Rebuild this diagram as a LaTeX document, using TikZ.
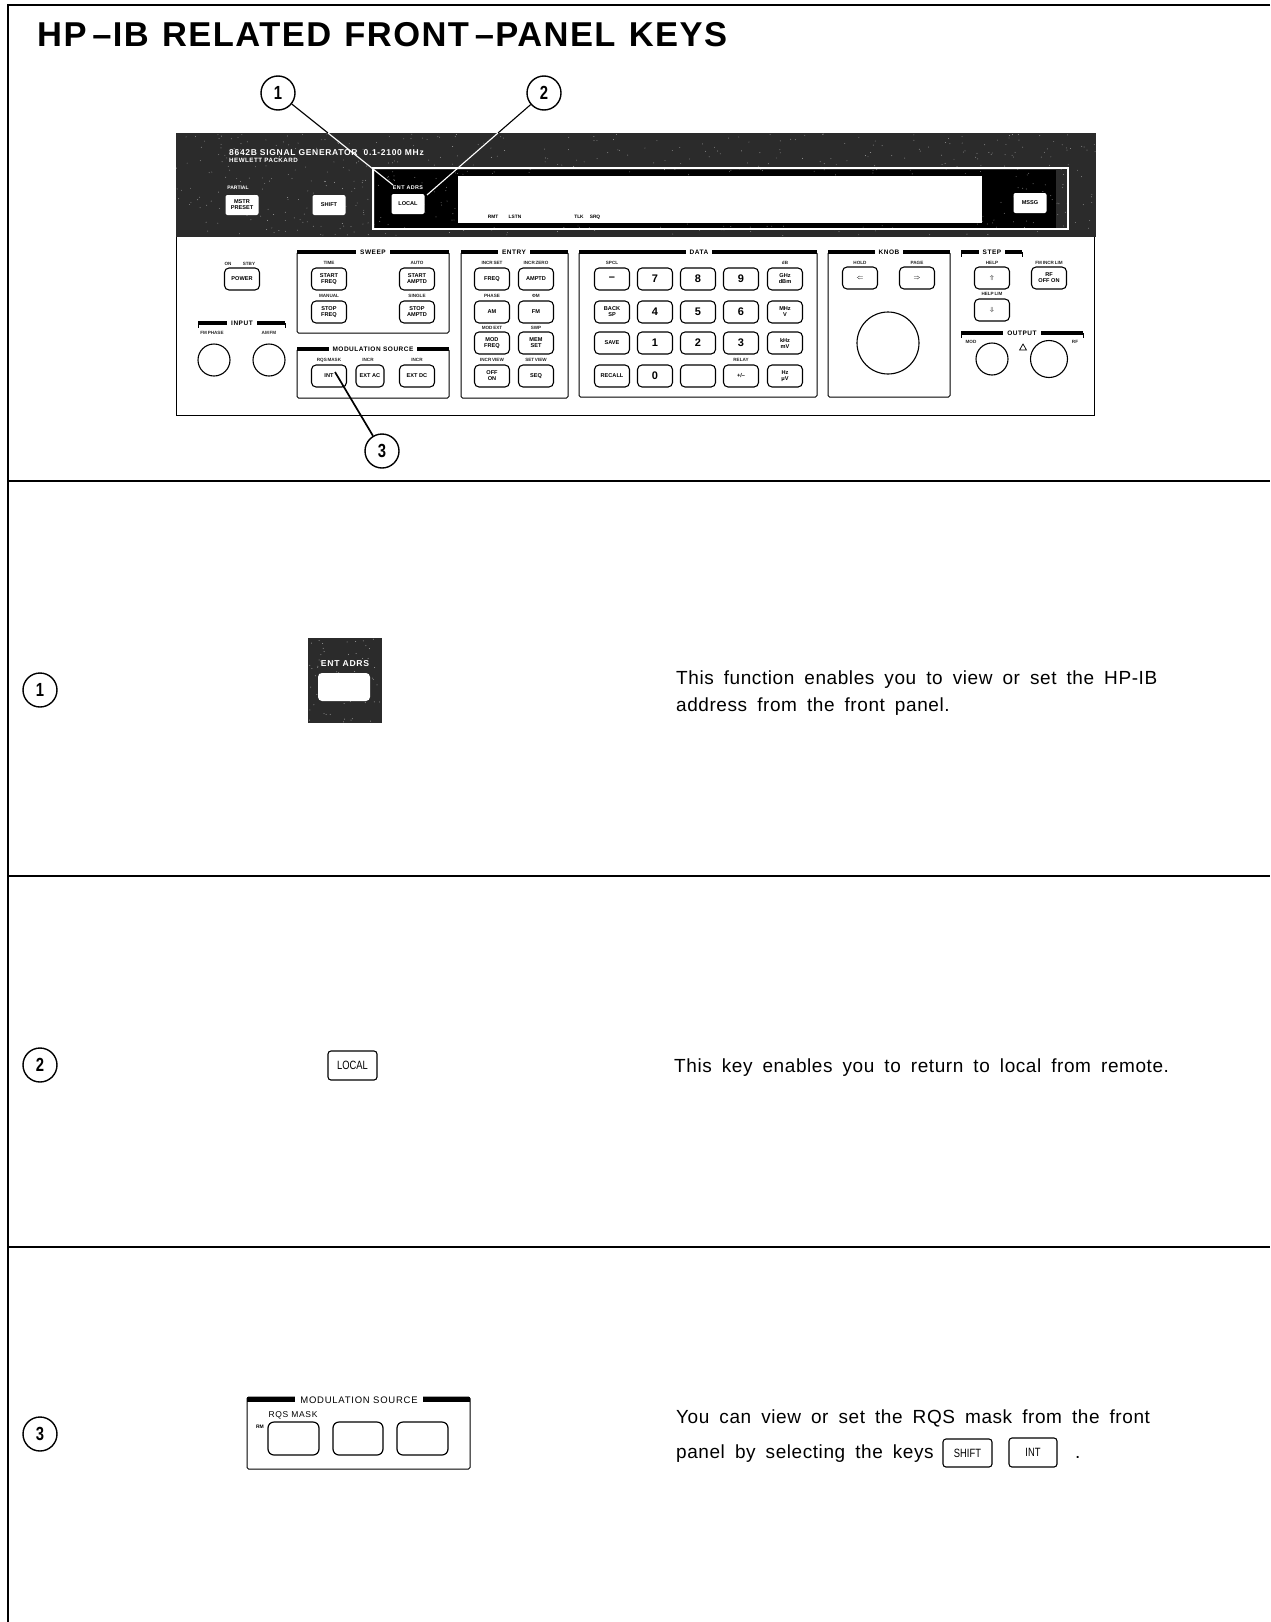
\documentclass[tikz,border=0pt]{standalone}
\usepackage{graphicx}
\usepackage{fontspec}
\setmainfont{Liberation Sans}
\newfontfamily\bodyf[WordSpace=1.72,LetterSpace=3]{Liberation Sans}
\newfontfamily\titlef[LetterSpace=4.2,WordSpace=1.2]{Liberation Sans}
\newfontfamily\panelf[LetterSpace=8]{Liberation Sans}
\usetikzlibrary{calc,shapes.geometric}
\definecolor{panelgray}{HTML}{2B2B2B}
\newcommand{\narrowtext}[1]{\scalebox{.78}[1]{#1}}
\tikzset{
  rule/.style={line width=1.3pt,black},
  callout/.style={draw,circle,minimum size=34pt,inner sep=0pt,line width=1.4pt,font=\fontsize{19}{19}\selectfont\bfseries,fill=white},
  fkey/.style={draw,rounded corners=4.5pt,line width=1.1pt,minimum width=35pt,minimum height=22pt,inner sep=0pt,align=center,font=\fontsize{5.6}{6}\selectfont\bfseries,fill=white},
  numkey/.style={fkey,font=\fontsize{11}{11}\selectfont\bfseries},
  whitekey/.style={fill=white,rounded corners=2pt,minimum width=33pt,minimum height=20pt,inner sep=0pt,align=center,font=\fontsize{5.6}{6}\selectfont\bfseries},
  groupbox/.style={draw,rounded corners=1.5pt,line width=1pt},
  headbar/.style={line width=3.5pt,black},
  headtext/.style={fill=white,inner ysep=0.5pt,inner xsep=4pt,font=\fontsize{6.5}{6}\selectfont\panelf\bfseries},
  tinylab/.style={inner sep=0pt,font=\fontsize{4.6}{5}\selectfont\bfseries,text=black!85},
  bodytext/.style={anchor=base west,inner sep=0pt,font=\fontsize{19}{20}\selectfont\bodyf},
  knob/.style={draw,circle,line width=1.1pt,inner sep=0pt},
  inlinekey/.style={draw,rounded corners=3pt,line width=1.1pt,inner sep=0pt,font=\fontsize{12}{12}\selectfont},
  bigkey/.style={draw,rounded corners=6pt,line width=1.2pt,inner sep=0pt},
}
\begin{document}
\begin{tikzpicture}[x=1pt,y=-1pt]
\useasboundingbox (0,0) rectangle (1270,1622);
\fill[white] (0,0) rectangle (1270,1622);
% frame
\draw[rule] (1270,5) -- (8,5) -- (8,1622);
\draw[rule] (8,481) -- (1270,481);
\draw[rule] (8,876) -- (1270,876);
\draw[rule] (8,1247) -- (1270,1247);
% title
\node[anchor=base west,inner sep=0pt,font=\fontsize{34.5}{34}\selectfont\titlef\bfseries] (title) at (37,46) {HP\,–IB RELATED FRONT\,–PANEL KEYS};
% panel
\fill[panelgray] (176,133) rectangle (1096,237);
\fill[black] (375,170) rectangle (1056,229);
\fill[white] (458,176) rectangle (982,223);
\draw[white,line width=1.1pt] (1056,168) -- (373,168) -- (373,229) -- (1056,229);
\draw[white,line width=1.1pt] (1056,168) -- (1068,168) -- (1068,229) -- (1056,229);
\pgfmathsetseed{4242}
\foreach \i in {1,...,650}{
  \pgfmathsetmacro{\px}{176+rnd*920}
  \pgfmathsetmacro{\py}{134+rnd*102}
  \pgfmathsetmacro{\inD}{(\px>458 && \px<982 && \py>175 && \py<224) ? 1 : 0}
  \ifdim\inD pt=0pt
    \fill[white,opacity=.55] (\px,\py) circle (0.45pt);
  \fi
}
\draw[line width=1pt] (176,237) -- (176,415) -- (1094,415) -- (1094,237);
% dark panel text
\node[anchor=base west,inner sep=0pt,text=white,font=\fontsize{8.5}{9}\selectfont\bfseries\panelf] (pname) at (229,155) {8642B SIGNAL GENERATOR\ \ 0.1-2100 MHz};
\node[anchor=base west,inner sep=0pt,text=white,font=\fontsize{6.2}{6}\selectfont\bfseries\panelf] (pmake) at (229,162) {HEWLETT PACKARD};
\node[inner sep=0pt,text=white,font=\fontsize{5}{5}\selectfont\bfseries] (partial) at (238,188) {PARTIAL};
\node[whitekey] (kpreset) at (242,205) {MSTR\\PRESET};
\node[whitekey] (kshift) at (329,205) {SHIFT};
\node[inner sep=0pt,text=white,font=\fontsize{5.4}{5}\selectfont\bfseries\panelf] (entadrs) at (408,188) {ENT ADRS};
\node[whitekey] (klocal) at (408,204) {LOCAL};
\node[whitekey] (kmssg) at (1030,203) {MSSG};
\foreach \n/\x/\t in {r1/493/RMT,r2/515/LSTN,r3/579/TLK,r4/595/SRQ}
  \node[inner sep=0pt,font=\fontsize{4.8}{5}\selectfont\bfseries] (\n) at (\x,217) {\t};
% group boxes
\foreach \xa/\ya/\xb/\yb in {297/252/449/333,297/349/449/398,461/252/568/398,579/252/817/397,828/252/950/397}
  \draw[groupbox] (\xa,\ya) rectangle (\xb,\yb);
\foreach \xa/\ya/\xb in {297/252/449,297/349/449,461/252/568,579/252/817,828/252/950,961/252/1022,961/333/1083,198/323/285}
  \draw[headbar] (\xa,\ya) -- (\xb,\ya);
\foreach \xa/\ya/\xb in {961/252/1022,961/333/1083,198/323/285}{
  \draw[line width=.9pt] (\xa,\ya) -- (\xa,\ya+5);
  \draw[line width=.9pt] (\xb,\ya) -- (\xb,\ya+5);
}
\foreach \n/\x/\y/\t in {hsweep/373/252/SWEEP,hmod/373/349/MODULATION SOURCE,hentry/514/252/ENTRY,hdata/699/252/DATA,hknob/889/252/KNOB,hstep/992/252/STEP,hout/1022/333/OUTPUT,hinput/242/323/INPUT}
  \node[headtext] (\n) at (\x,\y) {\t};
% function keys
\foreach \n/\x/\y/\t in {
  kpower/242/279/POWER,
  kk1/329/279/{START\\FREQ},kk2/417/279/{START\\AMPTD},kk3/329/312/{STOP\\FREQ},kk4/417/312/{STOP\\AMPTD},
  kint/329/376/INT,kdc/417/376/EXT DC,
  ke1/492/279/FREQ,ke2/536/279/AMPTD,ke3/492/312/AM,ke4/536/312/FM,ke5/492/343/{MOD\\FREQ},ke6/536/343/{MEM\\SET},ke7/492/376/{OFF\\ON},ke8/536/376/SEQ,
  kd2/612/312/{BACK\\SP},kd3/612/343/SAVE,kd4/612/376/RECALL,
  kg/785/279/{GHz\\dBm},km/785/312/{MHz\\V},kh/785/343/{kHz\\mV},kz/785/376/{Hz\\μV},
  kdot/741/376/{+/–},kblank/698/376/{},
  kn1/860/278/{$\Leftarrow$},kn2/917/278/{$\Rightarrow$},
  ks1/992/278/{$\Uparrow$},ks2/992/310/{$\Downarrow$},krf/1049/278/{RF\\OFF ON}}
  \node[fkey] (\n) at (\x,\y) {\t};
\node[fkey,minimum width=28pt] (kac) at (370,376) {EXT AC};
\foreach \n/\x/\y/\t in {
  kminus/612/279/–,k7/655/279/7,k8/698/279/8,k9/741/279/9,
  k4/655/312/4,k5/698/312/5,k6/741/312/6,
  k1/655/343/1,k2/698/343/2,k3/741/343/3,k0/655/376/0}
  \node[numkey] (\n) at (\x,\y) {\t};
% knobs
\node[knob,minimum size=62pt] (bigknob) at (888,343) {};
\node[knob,minimum size=32pt] (kmod) at (992,359) {};
\node[knob,minimum size=37pt] (krfout) at (1049,359) {};
\node[knob,minimum size=32pt] (kfm) at (214,360) {};
\node[knob,minimum size=32pt] (kam) at (269,360) {};
\node[draw,isosceles triangle,isosceles triangle apex angle=60,shape border rotate=90,inner sep=0pt,minimum size=6pt,line width=.7pt] (tri) at (1023,348) {};
% small legends
\foreach \n/\x/\y/\t in {
  a1/228/264/ON,a2/249/264/STBY,a3/212/333/FM\,PHASE,a4/269/333/AM\,FM,
  a5/329/263/TIME,a6/417/263/AUTO,a7/329/296/MANUAL,a8/417/296/SINGLE,
  a9/329/360/RQS\,MASK,a10/368/360/INCR,a11/417/360/INCR,
  a12/492/263/INCR\,SET,a13/536/263/INCR\,ZERO,a14/492/296/PHASE,a15/536/296/ΦM,a16/492/328/MOD\,EXT,a17/536/328/SWP,a18/492/360/INCR\,VIEW,a19/536/360/SET\,VIEW,
  a20/612/263/SPCL,a21/785/263/dB,a22/741/360/RELAY,
  a23/860/263/HOLD,a24/917/263/PAGE,a25/992/263/HELP,a26/1049/263/FM\,INCR\,LIM,a27/992/294/HELP\,LIM,
  a28/971/342/MOD,a29/1075/342/RF}
  \node[tinylab] (\n) at (\x,\y) {\t};
% callouts
\node[callout] (c1) at (278,93) {\narrowtext{1}};
\node[callout] (c2) at (544,93) {\narrowtext{2}};
\node[callout] (c3) at (382,451) {\narrowtext{3}};
\coordinate (a1t) at (328,133);
\coordinate (t1) at (393,185);
\coordinate (a2t) at (498,133);
\coordinate (t2) at (427,195);
\coordinate (t3) at (335,372);
\draw[line width=1.1pt] (c1) -- (a1t);
\draw[white,line width=1.1pt] (a1t) -- (t1);
\draw[line width=1.1pt] (c2) -- (a2t);
\draw[white,line width=1.1pt] (a2t) -- (t2);
\draw[line width=1.7pt] (c3) -- (t3);
% section 1
\node[callout] (s1) at (40,690) {\narrowtext{1}};
\fill[panelgray] (308,638) rectangle (382,723);
\foreach \i in {1,...,70}{
  \pgfmathsetmacro{\px}{309+rnd*72}
  \pgfmathsetmacro{\py}{639+rnd*83}
  \fill[white,opacity=.55] (\px,\py) circle (0.5pt);
}
\node[inner sep=0pt,text=white,font=\fontsize{8.6}{9}\selectfont\bfseries\panelf] (s1lab) at (345,664) {ENT ADRS};
\node[fill=white,rounded corners=4pt,minimum width=52pt,minimum height=28pt,inner sep=0pt] (s1key) at (344,687) {};
\node[bodytext] (s1t1) at (676,684) {This function enables you to view or set the HP-IB};
\node[bodytext] (s1t2) at (676,711) {address from the front panel.};
% section 2
\node[callout] (s2) at (40,1065) {\narrowtext{2}};
\node[inlinekey,minimum width=49pt,minimum height=29pt] (s2key) at (352.5,1065.5) {\narrowtext{LOCAL}};
\node[bodytext] (s2t) at (674,1072) {This key enables you to return to local from remote.};
% section 3
\node[callout] (s3) at (40,1434) {\narrowtext{3}};
\draw[groupbox] (247,1397) rectangle (470,1469);
\draw[line width=5pt] (247,1399.5) -- (470,1399.5);
\node[fill=white,inner ysep=1.5pt,inner xsep=5pt,font=\fontsize{9.5}{10}\selectfont\panelf] (s3h) at (359,1400) {MODULATION SOURCE};
\node[inner sep=0pt,font=\fontsize{8.5}{9}\selectfont\panelf] (s3r) at (293,1415) {RQS MASK};
\node[inner sep=0pt,font=\fontsize{5}{5}\selectfont\bfseries] (s3m) at (260,1427) {RM};
\node[bigkey,minimum width=51pt,minimum height=33pt] (s3k1) at (293.5,1438.5) {};
\node[bigkey,minimum width=50pt,minimum height=33pt] (s3k2) at (358,1438.5) {};
\node[bigkey,minimum width=51pt,minimum height=33pt] (s3k3) at (422.5,1438.5) {};
\node[bodytext] (s3t1) at (676,1423) {You can view or set the RQS mask from the front};
\node[bodytext] (s3t2) at (676,1458) {panel by selecting the keys};
\node[inlinekey,minimum width=49pt,minimum height=28pt] (s3shift) at (967.5,1453) {\narrowtext{SHIFT}};
\node[inlinekey,minimum width=48pt,minimum height=29pt] (s3int) at (1033,1452.5) {\narrowtext{INT}};
\node[bodytext] (s3dot) at (1075,1458) {.};
\end{tikzpicture}
\end{document}
